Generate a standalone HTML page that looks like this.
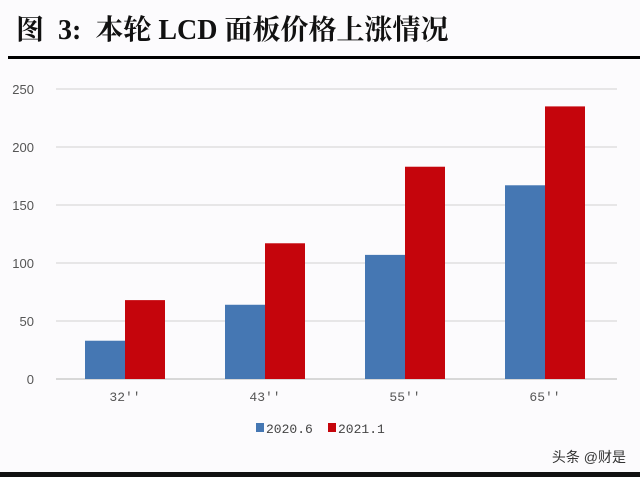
<!DOCTYPE html>
<html><head><meta charset="utf-8"><style>
body{margin:0;background:#fcfbfd;}
svg{display:block;font-family:"Liberation Sans","Noto Sans CJK SC",sans-serif;}
</style></head><body>
<svg width="640" height="477" viewBox="0 0 640 477">
<rect width="640" height="477" fill="#fcfbfd"/>
<text x="16" y="39" font-family="'Liberation Serif','Noto Serif CJK SC',serif" font-weight="bold" font-size="28" fill="#111" style="white-space:pre">图  3:  本轮 LCD 面板价格上涨情况</text>
<rect x="8" y="56" width="632" height="3" fill="#000"/>
<rect x="0" y="472" width="640" height="5" fill="#111"/>
<g id="grid"></g>
<g id="bars"></g>
<g id="labels"></g>
<g>
<rect x="256" y="423" width="8" height="9" fill="#4577b3"/>
<text x="266" y="433" font-family="'Liberation Mono',monospace" font-size="13" fill="#444">2020.6</text>
<rect x="328" y="423" width="8" height="9" fill="#c5050c"/>
<text x="338" y="433" font-family="'Liberation Mono',monospace" font-size="13" fill="#444">2021.1</text>
</g>
<text x="626" y="462" text-anchor="end" font-size="14" fill="#333">头条 @财是</text>
</svg>
<script>
const categories=["32''","43''","55''","65''"];
const series2020=[33,64,107,167];
const series2021=[68,117,183,235];
const ticks=[0,50,100,150,200,250];
const NS="http://www.w3.org/2000/svg";
const y0=379,pxPer=1.16,xL=56,xR=617,step=140,first=125,bw=40;
const yS=v=>y0-v*pxPer;
const xC=i=>first+i*step;
function mk(t,a,p){const e=document.createElementNS(NS,t);for(const k in a)e.setAttribute(k,a[k]);p.appendChild(e);return e;}
const g=document.getElementById('grid'),b=document.getElementById('bars'),l=document.getElementById('labels');
ticks.forEach(t=>{
 const ln=mk('line',{x1:xL,x2:xR,y1:yS(t),y2:yS(t),stroke:t===0?'#ccc':'#e0e0e0','stroke-width':1.5},g);
 
 
 const tx=mk('text',{x:34,y:yS(t)+5,'text-anchor':'end','font-size':13,fill:'#555'},l);
 tx.textContent=t;
 
 
});
categories.forEach((c,i)=>{
 const r1=mk('rect',{x:xC(i)-bw,y:yS(series2020[i]),width:bw,height:series2020[i]*pxPer,fill:'#4577b3'},b);
 
 
 const r2=mk('rect',{x:xC(i),y:yS(series2021[i]),width:bw,height:series2021[i]*pxPer,fill:'#c5050c'},b);
 
 
 const tx=mk('text',{x:xC(i),y:401,'text-anchor':'middle','font-size':13,fill:'#555','font-family':"'Liberation Mono',monospace"},l);
 tx.textContent=c;
 
 
});
</script>
</body></html>
